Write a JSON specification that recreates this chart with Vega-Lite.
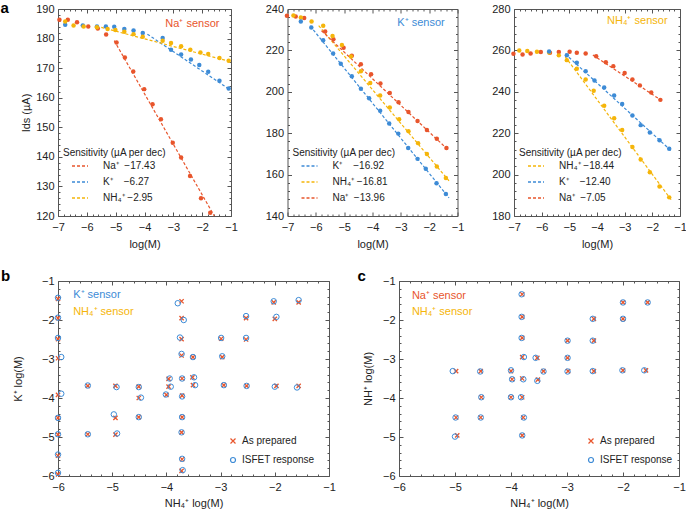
{
"$schema": "https://vega.github.io/schema/vega-lite/v6.json",
"padding": 0,
"background": "white",
"config": {
 "font": "Liberation Sans",
 "view": {"stroke": "#555555", "strokeWidth": 1},
 "axis": {"domain": false, "grid": false, "labelFont": "Liberation Sans", "labelFontSize": 11, "labelColor": "#222222", "titleFont": "Liberation Sans", "titleFontSize": 11, "titleFontWeight": "normal", "titleColor": "#222222", "tickColor": "#555555", "labelFlush": false, "labelOverlap": false},
 "legend": {"labelFont": "Liberation Sans", "titleFont": "Liberation Sans", "labelColor": "#222222", "titleColor": "#222222", "titleFontWeight": "normal"},
 "text": {"font": "Liberation Sans"}
},
"datasets": {
 "fit_a1": [
  {"x": -5.05, "y": 179.3, "ion": "Na"}, {"x": -1.58, "y": 120.0, "ion": "Na"},
  {"x": -3.9, "y": 181.5, "ion": "K"}, {"x": -1.02, "y": 162.6, "ion": "K"},
  {"x": -5.5, "y": 183.8, "ion": "NH4"}, {"x": -1.02, "y": 172.2, "ion": "NH4"}
 ],
 "pts_a1": [
  {"x": -6.95, "y": 186.4, "ion": "Na"}, {"x": -6.66, "y": 186.4, "ion": "Na"}, {"x": -6.34, "y": 185.5, "ion": "Na"}, {"x": -5.95, "y": 184.1, "ion": "Na"}, {"x": -5.62, "y": 183.4, "ion": "Na"}, {"x": -5.33, "y": 181.4, "ion": "Na"}, {"x": -4.97, "y": 178.7, "ion": "Na"}, {"x": -4.68, "y": 173.6, "ion": "Na"}, {"x": -4.39, "y": 168.9, "ion": "Na"}, {"x": -4.01, "y": 162.9, "ion": "Na"}, {"x": -3.72, "y": 157.8, "ion": "Na"}, {"x": -3.43, "y": 152.7, "ion": "Na"}, {"x": -3.02, "y": 144.8, "ion": "Na"}, {"x": -2.73, "y": 139.8, "ion": "Na"}, {"x": -2.42, "y": 133.5, "ion": "Na"}, {"x": -2.04, "y": 126.0, "ion": "Na"}, {"x": -1.72, "y": 121.1, "ion": "Na"},
  {"x": -6.75, "y": 184.7, "ion": "K"}, {"x": -6.14, "y": 184.4, "ion": "K"}, {"x": -5.65, "y": 184.1, "ion": "K"}, {"x": -5.34, "y": 184.1, "ion": "K"}, {"x": -5.05, "y": 184.0, "ion": "K"}, {"x": -4.7, "y": 183.2, "ion": "K"}, {"x": -4.38, "y": 182.7, "ion": "K"}, {"x": -4.06, "y": 181.9, "ion": "K"}, {"x": -3.37, "y": 180.2, "ion": "K"}, {"x": -3.08, "y": 176.2, "ion": "K"}, {"x": -2.73, "y": 174.6, "ion": "K"}, {"x": -2.39, "y": 172.9, "ion": "K"}, {"x": -2.1, "y": 171.1, "ion": "K"}, {"x": -1.79, "y": 168.8, "ion": "K"}, {"x": -1.4, "y": 165.7, "ion": "K"}, {"x": -1.08, "y": 163.1, "ion": "K"},
  {"x": -6.75, "y": 185.8, "ion": "NH4"}, {"x": -6.46, "y": 184.4, "ion": "NH4"}, {"x": -6.11, "y": 184.1, "ion": "NH4"}, {"x": -5.65, "y": 183.8, "ion": "NH4"}, {"x": -5.28, "y": 183.2, "ion": "NH4"}, {"x": -5.01, "y": 182.9, "ion": "NH4"}, {"x": -4.7, "y": 182.3, "ion": "NH4"}, {"x": -4.38, "y": 181.5, "ion": "NH4"}, {"x": -4.06, "y": 180.6, "ion": "NH4"}, {"x": -3.37, "y": 179.3, "ion": "NH4"}, {"x": -3.08, "y": 178.5, "ion": "NH4"}, {"x": -2.73, "y": 177.4, "ion": "NH4"}, {"x": -2.41, "y": 176.2, "ion": "NH4"}, {"x": -2.06, "y": 175.3, "ion": "NH4"}, {"x": -1.79, "y": 174.8, "ion": "NH4"}, {"x": -1.4, "y": 173.4, "ion": "NH4"}, {"x": -1.08, "y": 172.5, "ion": "NH4"}
 ],
 "fit_a2": [
  {"x": -6.2, "y": 231.8, "ion": "K"}, {"x": -1.3, "y": 148.8, "ion": "K"},
  {"x": -5.9, "y": 232.0, "ion": "NH4"}, {"x": -1.3, "y": 157.0, "ion": "NH4"},
  {"x": -5.8, "y": 229.5, "ion": "Na"}, {"x": -1.35, "y": 172.2, "ion": "Na"}
 ],
 "pts_a2": [
  {"x": -7.02, "y": 236.7, "ion": "Na"}, {"x": -6.71, "y": 236.4, "ion": "Na"}, {"x": -6.41, "y": 235.6, "ion": "Na"}, {"x": -5.67, "y": 229.1, "ion": "Na"}, {"x": -5.38, "y": 225.4, "ion": "Na"}, {"x": -5.02, "y": 221.3, "ion": "Na"}, {"x": -4.73, "y": 217.4, "ion": "Na"}, {"x": -4.41, "y": 213.3, "ion": "Na"}, {"x": -4.05, "y": 208.5, "ion": "Na"}, {"x": -3.72, "y": 204.0, "ion": "Na"}, {"x": -3.39, "y": 199.4, "ion": "Na"}, {"x": -3.08, "y": 195.0, "ion": "Na"}, {"x": -2.73, "y": 190.2, "ion": "Na"}, {"x": -2.41, "y": 185.9, "ion": "Na"}, {"x": -2.08, "y": 181.5, "ion": "Na"}, {"x": -1.73, "y": 177.3, "ion": "Na"}, {"x": -1.39, "y": 172.9, "ion": "Na"},
  {"x": -6.79, "y": 236.9, "ion": "NH4"}, {"x": -6.53, "y": 235.9, "ion": "NH4"}, {"x": -6.15, "y": 234.0, "ion": "NH4"}, {"x": -5.74, "y": 231.9, "ion": "NH4"}, {"x": -5.41, "y": 227.0, "ion": "NH4"}, {"x": -5.08, "y": 222.6, "ion": "NH4"}, {"x": -4.76, "y": 217.0, "ion": "NH4"}, {"x": -4.41, "y": 209.9, "ion": "NH4"}, {"x": -4.08, "y": 204.2, "ion": "NH4"}, {"x": -3.73, "y": 198.2, "ion": "NH4"}, {"x": -3.39, "y": 192.4, "ion": "NH4"}, {"x": -3.06, "y": 186.7, "ion": "NH4"}, {"x": -2.73, "y": 181.0, "ion": "NH4"}, {"x": -2.39, "y": 175.2, "ion": "NH4"}, {"x": -2.08, "y": 169.9, "ion": "NH4"}, {"x": -1.73, "y": 163.9, "ion": "NH4"}, {"x": -1.41, "y": 158.4, "ion": "NH4"},
  {"x": -6.53, "y": 234.0, "ion": "K"}, {"x": -6.16, "y": 231.1, "ion": "K"}, {"x": -5.74, "y": 224.9, "ion": "K"}, {"x": -5.39, "y": 218.5, "ion": "K"}, {"x": -5.12, "y": 213.5, "ion": "K"}, {"x": -4.73, "y": 207.5, "ion": "K"}, {"x": -4.41, "y": 201.5, "ion": "K"}, {"x": -4.12, "y": 196.9, "ion": "K"}, {"x": -3.73, "y": 190.9, "ion": "K"}, {"x": -3.41, "y": 184.7, "ion": "K"}, {"x": -3.09, "y": 179.8, "ion": "K"}, {"x": -2.74, "y": 172.8, "ion": "K"}, {"x": -2.41, "y": 167.6, "ion": "K"}, {"x": -2.12, "y": 162.8, "ion": "K"}, {"x": -1.74, "y": 155.8, "ion": "K"}, {"x": -1.41, "y": 150.6, "ion": "K"}
 ],
 "fit_a3": [
  {"x": -5.15, "y": 257.0, "ion": "NH4"}, {"x": -1.3, "y": 187.5, "ion": "NH4"},
  {"x": -5.15, "y": 258.3, "ion": "K"}, {"x": -1.3, "y": 211.3, "ion": "K"},
  {"x": -4.15, "y": 257.8, "ion": "Na"}, {"x": -1.6, "y": 235.2, "ion": "Na"}
 ],
 "pts_a3": [
  {"x": -7.02, "y": 258.4, "ion": "Na"}, {"x": -6.69, "y": 258.0, "ion": "Na"}, {"x": -6.4, "y": 258.5, "ion": "Na"}, {"x": -6.03, "y": 259.2, "ion": "Na"}, {"x": -5.7, "y": 258.9, "ion": "Na"}, {"x": -5.38, "y": 259.2, "ion": "Na"}, {"x": -4.99, "y": 259.3, "ion": "Na"}, {"x": -4.73, "y": 258.9, "ion": "Na"}, {"x": -4.41, "y": 258.5, "ion": "Na"}, {"x": -4.03, "y": 257.2, "ion": "Na"}, {"x": -3.68, "y": 254.3, "ion": "Na"}, {"x": -3.41, "y": 252.4, "ion": "Na"}, {"x": -3.0, "y": 249.1, "ion": "Na"}, {"x": -2.72, "y": 245.9, "ion": "Na"}, {"x": -2.45, "y": 243.1, "ion": "Na"}, {"x": -2.04, "y": 239.7, "ion": "Na"}, {"x": -1.71, "y": 236.1, "ion": "Na"},
  {"x": -6.81, "y": 260.0, "ion": "NH4"}, {"x": -6.52, "y": 259.7, "ion": "NH4"}, {"x": -6.17, "y": 259.3, "ion": "NH4"}, {"x": -5.73, "y": 259.0, "ion": "NH4"}, {"x": -5.38, "y": 257.6, "ion": "NH4"}, {"x": -5.09, "y": 255.3, "ion": "NH4"}, {"x": -4.73, "y": 251.1, "ion": "NH4"}, {"x": -4.41, "y": 245.9, "ion": "NH4"}, {"x": -4.12, "y": 240.5, "ion": "NH4"}, {"x": -3.74, "y": 233.3, "ion": "NH4"}, {"x": -3.38, "y": 227.2, "ion": "NH4"}, {"x": -3.09, "y": 221.5, "ion": "NH4"}, {"x": -2.72, "y": 213.3, "ion": "NH4"}, {"x": -2.42, "y": 207.3, "ion": "NH4"}, {"x": -2.09, "y": 201.1, "ion": "NH4"}, {"x": -1.74, "y": 194.3, "ion": "NH4"}, {"x": -1.39, "y": 189.0, "ion": "NH4"},
  {"x": -5.73, "y": 259.5, "ion": "K"}, {"x": -5.09, "y": 257.7, "ion": "K"}, {"x": -4.73, "y": 254.0, "ion": "K"}, {"x": -4.41, "y": 249.9, "ion": "K"}, {"x": -4.09, "y": 245.5, "ion": "K"}, {"x": -3.74, "y": 242.1, "ion": "K"}, {"x": -3.38, "y": 238.2, "ion": "K"}, {"x": -3.09, "y": 234.1, "ion": "K"}, {"x": -2.72, "y": 228.5, "ion": "K"}, {"x": -2.42, "y": 223.9, "ion": "K"}, {"x": -2.09, "y": 220.3, "ion": "K"}, {"x": -1.74, "y": 216.6, "ion": "K"}, {"x": -1.39, "y": 212.5, "ion": "K"}
 ],
 "b_prep": [
  {"x": -6.0, "y": -1.46}, {"x": -6.0, "y": -1.95}, {"x": -6.0, "y": -2.49}, {"x": -6.0, "y": -2.98}, {"x": -6.0, "y": -3.92}, {"x": -6.0, "y": -4.51}, {"x": -6.0, "y": -4.94}, {"x": -6.0, "y": -5.48}, {"x": -6.0, "y": -5.96},
  {"x": -5.45, "y": -3.69}, {"x": -5.45, "y": -4.93}, {"x": -4.94, "y": -3.69}, {"x": -4.94, "y": -4.51}, {"x": -4.94, "y": -4.94},
  {"x": -4.51, "y": -3.71}, {"x": -4.51, "y": -4.0}, {"x": -4.51, "y": -4.49}, {"x": -4.0, "y": -3.92}, {"x": -3.96, "y": -3.51}, {"x": -3.96, "y": -3.71},
  {"x": -3.72, "y": -1.52}, {"x": -3.72, "y": -1.95}, {"x": -3.72, "y": -2.49}, {"x": -3.72, "y": -2.91}, {"x": -3.71, "y": -3.5}, {"x": -3.71, "y": -3.94}, {"x": -3.71, "y": -4.49}, {"x": -3.72, "y": -4.88}, {"x": -3.71, "y": -5.57}, {"x": -3.72, "y": -5.87},
  {"x": -3.51, "y": -2.95}, {"x": -3.52, "y": -3.47}, {"x": -3.51, "y": -3.67},
  {"x": -2.99, "y": -2.48}, {"x": -2.97, "y": -2.95}, {"x": -2.94, "y": -3.67},
  {"x": -2.53, "y": -1.95}, {"x": -2.53, "y": -2.5}, {"x": -2.52, "y": -3.69},
  {"x": -2.02, "y": -1.55}, {"x": -2.0, "y": -1.97}, {"x": -1.97, "y": -3.69},
  {"x": -1.56, "y": -1.55}, {"x": -1.56, "y": -3.69}
 ],
 "b_isfet": [
  {"x": -6.0, "y": -1.43}, {"x": -6.0, "y": -1.94}, {"x": -6.0, "y": -2.46}, {"x": -5.94, "y": -2.95}, {"x": -5.94, "y": -3.89}, {"x": -6.0, "y": -4.51}, {"x": -6.0, "y": -4.93}, {"x": -6.0, "y": -5.45}, {"x": -6.0, "y": -5.92},
  {"x": -5.45, "y": -3.68}, {"x": -5.45, "y": -4.93}, {"x": -4.92, "y": -3.72}, {"x": -4.97, "y": -4.42}, {"x": -4.91, "y": -4.91},
  {"x": -4.51, "y": -3.72}, {"x": -4.47, "y": -3.99}, {"x": -4.51, "y": -4.49}, {"x": -4.01, "y": -3.91}, {"x": -3.94, "y": -3.5}, {"x": -3.92, "y": -3.71},
  {"x": -3.79, "y": -1.57}, {"x": -3.68, "y": -2.0}, {"x": -3.75, "y": -2.45}, {"x": -3.72, "y": -2.87}, {"x": -3.71, "y": -3.5}, {"x": -3.71, "y": -3.96}, {"x": -3.71, "y": -4.49}, {"x": -3.72, "y": -4.88}, {"x": -3.71, "y": -5.56}, {"x": -3.7, "y": -5.85},
  {"x": -3.51, "y": -2.95}, {"x": -3.49, "y": -3.47}, {"x": -3.47, "y": -3.67},
  {"x": -2.99, "y": -2.46}, {"x": -2.97, "y": -2.93}, {"x": -2.94, "y": -3.67},
  {"x": -2.53, "y": -1.9}, {"x": -2.53, "y": -2.46}, {"x": -2.52, "y": -3.69},
  {"x": -2.02, "y": -1.52}, {"x": -1.97, "y": -1.92}, {"x": -2.0, "y": -3.71},
  {"x": -1.56, "y": -1.49}, {"x": -1.59, "y": -3.73}
 ],
 "c_prep": [
  {"x": -4.98, "y": -3.31}, {"x": -4.54, "y": -3.31}, {"x": -4.53, "y": -3.98}, {"x": -4.98, "y": -4.5}, {"x": -4.54, "y": -4.5}, {"x": -4.96, "y": -4.96},
  {"x": -4.0, "y": -3.31}, {"x": -3.98, "y": -3.52}, {"x": -4.0, "y": -3.98},
  {"x": -3.8, "y": -1.34}, {"x": -3.8, "y": -1.92}, {"x": -3.8, "y": -2.46}, {"x": -3.8, "y": -2.95}, {"x": -3.8, "y": -3.5}, {"x": -3.8, "y": -3.98}, {"x": -3.78, "y": -4.5}, {"x": -3.8, "y": -4.96},
  {"x": -3.53, "y": -2.97}, {"x": -3.52, "y": -3.53}, {"x": -3.42, "y": -3.31},
  {"x": -2.99, "y": -2.53}, {"x": -2.99, "y": -2.97}, {"x": -2.98, "y": -3.31},
  {"x": -2.52, "y": -1.97}, {"x": -2.52, "y": -2.53}, {"x": -2.52, "y": -3.31},
  {"x": -2.0, "y": -1.55}, {"x": -2.0, "y": -1.97}, {"x": -2.0, "y": -3.29},
  {"x": -1.56, "y": -1.55}, {"x": -1.59, "y": -3.29}
 ],
 "c_isfet": [
  {"x": -5.04, "y": -3.31}, {"x": -4.55, "y": -3.32}, {"x": -4.53, "y": -3.98}, {"x": -4.99, "y": -4.5}, {"x": -4.54, "y": -4.5}, {"x": -5.0, "y": -4.99},
  {"x": -4.0, "y": -3.29}, {"x": -3.98, "y": -3.52}, {"x": -4.0, "y": -3.98},
  {"x": -3.81, "y": -1.34}, {"x": -3.81, "y": -1.92}, {"x": -3.81, "y": -2.46}, {"x": -3.77, "y": -2.95}, {"x": -3.78, "y": -3.52}, {"x": -3.82, "y": -3.98}, {"x": -3.77, "y": -4.5}, {"x": -3.8, "y": -4.96},
  {"x": -3.56, "y": -2.97}, {"x": -3.53, "y": -3.56}, {"x": -3.42, "y": -3.32},
  {"x": -2.99, "y": -2.53}, {"x": -2.99, "y": -2.97}, {"x": -2.99, "y": -3.32},
  {"x": -2.54, "y": -1.97}, {"x": -2.54, "y": -2.53}, {"x": -2.54, "y": -3.31},
  {"x": -2.0, "y": -1.55}, {"x": -2.0, "y": -1.97}, {"x": -2.01, "y": -3.29},
  {"x": -1.56, "y": -1.55}, {"x": -1.62, "y": -3.29}
 ]
},
"spacing": 18,
"resolve": {"scale": {"color": "independent", "shape": "independent"}, "legend": {"color": "independent", "shape": "independent"}},
"vconcat": [
 {
  "spacing": 26.5,
  "resolve": {"scale": {"color": "independent", "shape": "independent"}, "legend": {"color": "independent", "shape": "independent"}},
  "hconcat": [
   {
    "width": 173, "height": 207,
    "resolve": {"axis": {"x": "independent", "y": "independent"}},
    "layer": [
     {"data": {"name": "fit_a1"}, "mark": {"type": "line", "strokeDash": [3, 2], "strokeWidth": 1.2},
      "encoding": {
       "x": {"field": "x", "type": "quantitative", "scale": {"domain": [-7, -1], "nice": false, "zero": false},
        "axis": {"orient": "bottom", "title": "log(M)", "values": [-7,-6,-5,-4,-3,-2,-1], "format": "d", "tickSize": -4, "labelPadding": 9, "titlePadding": 6}},
       "y": {"field": "y", "type": "quantitative", "scale": {"domain": [120, 190], "nice": false, "zero": false},
        "axis": {"orient": "left", "title": "Ids (\u00b5A)", "values": [120,130,140,150,160,170,180,190], "format": "d", "tickSize": -4, "labelPadding": 8, "titlePadding": 4}},
       "color": {"field": "ion", "type": "nominal", "scale": {"domain": ["Na", "K", "NH4"], "range": ["#E8552C", "#3D8BD6", "#F5B50A"]},
        "legend": {"title": "Sensitivity (\u00b5A per dec)", "orient": "none", "legendX": 5, "legendY": 139, "padding": 0, "symbolType": "M-2,0L2,0", "symbolSize": 64, "symbolStrokeWidth": 1.3, "symbolDash": [3, 2], "symbolOffset": 12, "labelOffset": 18, "rowPadding": 6, "titlePadding": 3, "labelFontSize": 10, "titleFontSize": 10,
         "labelExpr": "datum.label == 'Na' ? 'Na\u207a\u00a0\u00a0\u221217.43' : datum.label == 'K' ? 'K\u207a\u00a0\u00a0\u00a0\u00a0\u22126.27' : 'NH\u2084\u207a\u00a0\u22122.95'"}}
      }},
     {"data": {"name": "pts_a1"}, "mark": {"type": "circle", "size": 20, "opacity": 1},
      "encoding": {
       "x": {"field": "x", "type": "quantitative", "axis": {"orient": "top", "title": null, "labels": false, "values": [-7,-6.8,-6.6,-6.4,-6.2,-6,-5.8,-5.6,-5.4,-5.2,-5,-4.8,-4.6,-4.4,-4.2,-4,-3.8,-3.6,-3.4,-3.2,-3,-2.8,-2.6,-2.4,-2.2,-2,-1.8,-1.6,-1.4,-1.2,-1], "tickSize": {"condition": {"test": "datum.value % 1 == 0", "value": -4}, "value": -2}}},
       "y": {"field": "y", "type": "quantitative", "axis": {"orient": "right", "title": null, "labels": false, "values": [120,122,124,126,128,130,132,134,136,138,140,142,144,146,148,150,152,154,156,158,160,162,164,166,168,170,172,174,176,178,180,182,184,186,188,190], "tickSize": {"condition": {"test": "datum.value % 10 == 0", "value": -4}, "value": -2}}},
       "color": {"field": "ion", "type": "nominal", "legend": null}
      }},
     {"data": {"values": [{}]}, "mark": {"type": "text", "text": "Na\u207a sensor", "align": "right", "baseline": "middle", "fontSize": 11, "color": "#E8552C"},
      "encoding": {
       "x": {"datum": -1.4, "type": "quantitative", "axis": {"orient": "bottom", "title": null, "labels": false, "values": [-6.8,-6.6,-6.4,-6.2,-5.8,-5.6,-5.4,-5.2,-4.8,-4.6,-4.4,-4.2,-3.8,-3.6,-3.4,-3.2,-2.8,-2.6,-2.4,-2.2,-1.8,-1.6,-1.4,-1.2], "tickSize": -2}},
       "y": {"datum": 184.9, "type": "quantitative", "axis": {"orient": "left", "title": null, "labels": false, "values": [122,124,126,128,132,134,136,138,142,144,146,148,152,154,156,158,162,164,166,168,172,174,176,178,182,184,186,188], "tickSize": -2}}}},
     {"data": {"values": [{}]}, "mark": {"type": "text", "text": "a", "align": "left", "baseline": "middle", "fontSize": 15, "fontWeight": "bold", "color": "#000000"},
      "encoding": {"x": {"datum": -8.99, "type": "quantitative", "axis": null}, "y": {"datum": 190.2, "type": "quantitative", "axis": null}}}
    ]
   },
   {
    "width": 170, "height": 207,
    "resolve": {"axis": {"x": "independent", "y": "independent"}},
    "layer": [
     {"data": {"name": "fit_a2"}, "mark": {"type": "line", "strokeDash": [3, 2], "strokeWidth": 1.2},
      "encoding": {
       "x": {"field": "x", "type": "quantitative", "scale": {"domain": [-7, -1], "nice": false, "zero": false},
        "axis": {"orient": "bottom", "title": "log(M)", "values": [-7,-6,-5,-4,-3,-2,-1], "format": "d", "tickSize": -4, "labelPadding": 9, "titlePadding": 6}},
       "y": {"field": "y", "type": "quantitative", "scale": {"domain": [140, 240], "nice": false, "zero": false},
        "axis": {"orient": "left", "title": null, "values": [140,160,180,200,220,240], "format": "d", "tickSize": -4, "labelPadding": 8}},
       "color": {"field": "ion", "type": "nominal", "scale": {"domain": ["K", "NH4", "Na"], "range": ["#3D8BD6", "#F5B50A", "#E8552C"]},
        "legend": {"title": "Sensitivity (\u00b5A per dec)", "orient": "none", "legendX": 5, "legendY": 139, "padding": 0, "symbolType": "M-2,0L2,0", "symbolSize": 64, "symbolStrokeWidth": 1.3, "symbolDash": [3, 2], "symbolOffset": 12, "labelOffset": 18, "rowPadding": 6, "titlePadding": 3, "labelFontSize": 10, "titleFontSize": 10,
         "labelExpr": "datum.label == 'Na' ? 'Na\u207a\u00a0\u00a0\u221213.96' : datum.label == 'K' ? 'K\u207a\u00a0\u00a0\u00a0\u00a0\u221216.92' : 'NH\u2084\u207a\u00a0\u221216.81'"}}
      }},
     {"data": {"name": "pts_a2"}, "mark": {"type": "circle", "size": 20, "opacity": 1},
      "encoding": {
       "x": {"field": "x", "type": "quantitative", "axis": {"orient": "top", "title": null, "labels": false, "values": [-7,-6.8,-6.6,-6.4,-6.2,-6,-5.8,-5.6,-5.4,-5.2,-5,-4.8,-4.6,-4.4,-4.2,-4,-3.8,-3.6,-3.4,-3.2,-3,-2.8,-2.6,-2.4,-2.2,-2,-1.8,-1.6,-1.4,-1.2,-1], "tickSize": {"condition": {"test": "datum.value % 1 == 0", "value": -4}, "value": -2}}},
       "y": {"field": "y", "type": "quantitative", "axis": {"orient": "right", "title": null, "labels": false, "values": [140,144,148,152,156,160,164,168,172,176,180,184,188,192,196,200,204,208,212,216,220,224,228,232,236,240], "tickSize": {"condition": {"test": "datum.value % 20 == 0", "value": -4}, "value": -2}}},
       "color": {"field": "ion", "type": "nominal", "legend": null}
      }},
     {"data": {"values": [{}]}, "mark": {"type": "text", "text": "K\u207a sensor", "align": "right", "baseline": "middle", "fontSize": 11, "color": "#3D8BD6"},
      "encoding": {
       "x": {"datum": -1.45, "type": "quantitative", "axis": {"orient": "bottom", "title": null, "labels": false, "values": [-6.8,-6.6,-6.4,-6.2,-5.8,-5.6,-5.4,-5.2,-4.8,-4.6,-4.4,-4.2,-3.8,-3.6,-3.4,-3.2,-2.8,-2.6,-2.4,-2.2,-1.8,-1.6,-1.4,-1.2], "tickSize": -2}},
       "y": {"datum": 233, "type": "quantitative", "axis": {"orient": "left", "title": null, "labels": false, "values": [144,148,152,156,164,168,172,176,184,188,192,196,204,208,212,216,224,228,232,236], "tickSize": -2}}}}
    ]
   },
   {
    "width": 166, "height": 207,
    "resolve": {"axis": {"x": "independent", "y": "independent"}},
    "layer": [
     {"data": {"name": "fit_a3"}, "mark": {"type": "line", "strokeDash": [3, 2], "strokeWidth": 1.2},
      "encoding": {
       "x": {"field": "x", "type": "quantitative", "scale": {"domain": [-7, -1], "nice": false, "zero": false},
        "axis": {"orient": "bottom", "title": "log(M)", "values": [-7,-6,-5,-4,-3,-2,-1], "format": "d", "tickSize": -4, "labelPadding": 9, "titlePadding": 6}},
       "y": {"field": "y", "type": "quantitative", "scale": {"domain": [180, 280], "nice": false, "zero": false},
        "axis": {"orient": "left", "title": null, "values": [180,200,220,240,260,280], "format": "d", "tickSize": -4, "labelPadding": 8}},
       "color": {"field": "ion", "type": "nominal", "scale": {"domain": ["NH4", "K", "Na"], "range": ["#F5B50A", "#3D8BD6", "#E8552C"]},
        "legend": {"title": "Sensitivity (\u00b5A per dec)", "orient": "none", "legendX": 5, "legendY": 139, "padding": 0, "symbolType": "M-2,0L2,0", "symbolSize": 64, "symbolStrokeWidth": 1.3, "symbolDash": [3, 2], "symbolOffset": 12, "labelOffset": 18, "rowPadding": 6, "titlePadding": 3, "labelFontSize": 10, "titleFontSize": 10,
         "labelExpr": "datum.label == 'Na' ? 'Na\u207a\u00a0\u00a0\u22127.05' : datum.label == 'K' ? 'K\u207a\u00a0\u00a0\u00a0\u00a0\u221212.40' : 'NH\u2084\u207a\u00a0\u221218.44'"}}
      }},
     {"data": {"name": "pts_a3"}, "mark": {"type": "circle", "size": 20, "opacity": 1},
      "encoding": {
       "x": {"field": "x", "type": "quantitative", "axis": {"orient": "top", "title": null, "labels": false, "values": [-7,-6.8,-6.6,-6.4,-6.2,-6,-5.8,-5.6,-5.4,-5.2,-5,-4.8,-4.6,-4.4,-4.2,-4,-3.8,-3.6,-3.4,-3.2,-3,-2.8,-2.6,-2.4,-2.2,-2,-1.8,-1.6,-1.4,-1.2,-1], "tickSize": {"condition": {"test": "datum.value % 1 == 0", "value": -4}, "value": -2}}},
       "y": {"field": "y", "type": "quantitative", "axis": {"orient": "right", "title": null, "labels": false, "values": [180,184,188,192,196,200,204,208,212,216,220,224,228,232,236,240,244,248,252,256,260,264,268,272,276,280], "tickSize": {"condition": {"test": "datum.value % 20 == 0", "value": -4}, "value": -2}}},
       "color": {"field": "ion", "type": "nominal", "legend": null}
      }},
     {"data": {"values": [{}]}, "mark": {"type": "text", "text": "NH\u2084\u207a sensor", "align": "right", "baseline": "middle", "fontSize": 11, "color": "#F5B50A"},
      "encoding": {
       "x": {"datum": -1.45, "type": "quantitative", "axis": {"orient": "bottom", "title": null, "labels": false, "values": [-6.8,-6.6,-6.4,-6.2,-5.8,-5.6,-5.4,-5.2,-4.8,-4.6,-4.4,-4.2,-3.8,-3.6,-3.4,-3.2,-2.8,-2.6,-2.4,-2.2,-1.8,-1.6,-1.4,-1.2], "tickSize": -2}},
       "y": {"datum": 274.3, "type": "quantitative", "axis": {"orient": "left", "title": null, "labels": false, "values": [184,188,192,196,204,208,212,216,224,228,232,236,244,248,252,256,264,268,272,276], "tickSize": -2}}}}
    ]
   }
  ]
 },
 {
  "spacing": 21,
  "resolve": {"scale": {"color": "independent", "shape": "independent"}, "legend": {"color": "independent", "shape": "independent"}},
  "hconcat": [
   {
    "width": 271, "height": 195,
    "resolve": {"axis": {"x": "independent", "y": "independent"}},
    "layer": [
     {"data": {"name": "b_prep"}, "mark": {"type": "point", "filled": false, "size": 18, "strokeWidth": 1.3, "opacity": 1},
      "encoding": {
       "x": {"field": "x", "type": "quantitative", "scale": {"domain": [-6, -1], "nice": false, "zero": false},
        "axis": {"orient": "bottom", "title": "NH\u2084\u207a log(M)", "values": [-6,-5,-4,-3,-2,-1], "format": "d", "tickSize": -4, "labelPadding": 9, "titlePadding": 5}},
       "y": {"field": "y", "type": "quantitative", "scale": {"domain": [-6, -1], "nice": false, "zero": false},
        "axis": {"orient": "left", "title": "K\u207a log(M)", "values": [-6,-5,-4,-3,-2,-1], "format": "d", "tickSize": -4, "labelPadding": 8, "titlePadding": 18}},
       "color": {"datum": "As prepared", "type": "nominal", "scale": {"domain": ["As prepared", "ISFET response"], "range": ["#E8552C", "#3D8BD6"]},
        "legend": {"title": null, "orient": "none", "legendX": 170, "legendY": 155, "padding": 0, "rowPadding": 9, "labelFontSize": 10, "symbolSize": 25, "symbolStrokeWidth": 1.2}},
       "shape": {"datum": "As prepared", "type": "nominal", "scale": {"domain": ["As prepared", "ISFET response"], "range": ["M-1,-1L1,1M-1,1L1,-1", "circle"]},
        "legend": {"title": null, "orient": "none", "legendX": 170, "legendY": 155, "padding": 0, "rowPadding": 9, "labelFontSize": 10, "symbolSize": 25, "symbolStrokeWidth": 1.2}}
      }},
     {"data": {"name": "b_isfet"}, "mark": {"type": "point", "filled": false, "size": 30, "strokeWidth": 1, "opacity": 1},
      "encoding": {
       "x": {"field": "x", "type": "quantitative", "axis": {"orient": "top", "title": null, "labels": false, "values": [-6,-5.8,-5.6,-5.4,-5.2,-5,-4.8,-4.6,-4.4,-4.2,-4,-3.8,-3.6,-3.4,-3.2,-3,-2.8,-2.6,-2.4,-2.2,-2,-1.8,-1.6,-1.4,-1.2,-1], "tickSize": {"condition": {"test": "datum.value % 1 == 0", "value": -4}, "value": -2}}},
       "y": {"field": "y", "type": "quantitative", "axis": {"orient": "right", "title": null, "labels": false, "values": [-6,-5.8,-5.6,-5.4,-5.2,-5,-4.8,-4.6,-4.4,-4.2,-4,-3.8,-3.6,-3.4,-3.2,-3,-2.8,-2.6,-2.4,-2.2,-2,-1.8,-1.6,-1.4,-1.2,-1], "tickSize": {"condition": {"test": "datum.value % 1 == 0", "value": -4}, "value": -2}}},
       "color": {"datum": "ISFET response", "type": "nominal", "legend": null},
       "shape": {"datum": "ISFET response", "type": "nominal", "legend": null}
      }},
     {"data": {"values": [{}]}, "mark": {"type": "text", "text": "K\u207a sensor", "align": "left", "baseline": "middle", "fontSize": 11, "color": "#3D8BD6"},
      "encoding": {
       "x": {"datum": -5.72, "type": "quantitative", "axis": {"orient": "bottom", "title": null, "labels": false, "values": [-5.8,-5.6,-5.4,-5.2,-4.8,-4.6,-4.4,-4.2,-3.8,-3.6,-3.4,-3.2,-2.8,-2.6,-2.4,-2.2,-1.8,-1.6,-1.4,-1.2], "tickSize": -2}},
       "y": {"datum": -1.36, "type": "quantitative", "axis": {"orient": "left", "title": null, "labels": false, "values": [-5.8,-5.6,-5.4,-5.2,-4.8,-4.6,-4.4,-4.2,-3.8,-3.6,-3.4,-3.2,-2.8,-2.6,-2.4,-2.2,-1.8,-1.6,-1.4,-1.2], "tickSize": -2}}}},
     {"data": {"values": [{}]}, "mark": {"type": "text", "text": "NH\u2084\u207a sensor", "align": "left", "baseline": "middle", "fontSize": 11, "color": "#F5B50A"},
      "encoding": {"x": {"datum": -5.72, "type": "quantitative", "axis": null}, "y": {"datum": -1.8, "type": "quantitative", "axis": null}}},
     {"data": {"values": [{}]}, "mark": {"type": "text", "text": "b", "align": "left", "baseline": "middle", "fontSize": 15, "fontWeight": "bold", "color": "#000000"},
      "encoding": {"x": {"datum": -7.05, "type": "quantitative", "axis": null}, "y": {"datum": -0.87, "type": "quantitative", "axis": null}}}
    ]
   },
   {
    "width": 280, "height": 195,
    "resolve": {"axis": {"x": "independent", "y": "independent"}},
    "layer": [
     {"data": {"name": "c_prep"}, "mark": {"type": "point", "filled": false, "size": 18, "strokeWidth": 1.3, "opacity": 1},
      "encoding": {
       "x": {"field": "x", "type": "quantitative", "scale": {"domain": [-6, -1], "nice": false, "zero": false},
        "axis": {"orient": "bottom", "title": "NH\u2084\u207a log(M)", "values": [-6,-5,-4,-3,-2,-1], "format": "d", "tickSize": -4, "labelPadding": 9, "titlePadding": 5}},
       "y": {"field": "y", "type": "quantitative", "scale": {"domain": [-6, -1], "nice": false, "zero": false},
        "axis": {"orient": "left", "title": "NH\u207a log(M)", "values": [-6,-5,-4,-3,-2,-1], "format": "d", "tickSize": -4, "labelPadding": 8, "titlePadding": 9}},
       "color": {"datum": "As prepared", "type": "nominal", "scale": {"domain": ["As prepared", "ISFET response"], "range": ["#E8552C", "#3D8BD6"]},
        "legend": {"title": null, "orient": "none", "legendX": 187, "legendY": 155, "padding": 0, "rowPadding": 9, "labelFontSize": 10, "symbolSize": 25, "symbolStrokeWidth": 1.2}},
       "shape": {"datum": "As prepared", "type": "nominal", "scale": {"domain": ["As prepared", "ISFET response"], "range": ["M-1,-1L1,1M-1,1L1,-1", "circle"]},
        "legend": {"title": null, "orient": "none", "legendX": 187, "legendY": 155, "padding": 0, "rowPadding": 9, "labelFontSize": 10, "symbolSize": 25, "symbolStrokeWidth": 1.2}}
      }},
     {"data": {"name": "c_isfet"}, "mark": {"type": "point", "filled": false, "size": 30, "strokeWidth": 1, "opacity": 1},
      "encoding": {
       "x": {"field": "x", "type": "quantitative", "axis": {"orient": "top", "title": null, "labels": false, "values": [-6,-5.8,-5.6,-5.4,-5.2,-5,-4.8,-4.6,-4.4,-4.2,-4,-3.8,-3.6,-3.4,-3.2,-3,-2.8,-2.6,-2.4,-2.2,-2,-1.8,-1.6,-1.4,-1.2,-1], "tickSize": {"condition": {"test": "datum.value % 1 == 0", "value": -4}, "value": -2}}},
       "y": {"field": "y", "type": "quantitative", "axis": {"orient": "right", "title": null, "labels": false, "values": [-6,-5.8,-5.6,-5.4,-5.2,-5,-4.8,-4.6,-4.4,-4.2,-4,-3.8,-3.6,-3.4,-3.2,-3,-2.8,-2.6,-2.4,-2.2,-2,-1.8,-1.6,-1.4,-1.2,-1], "tickSize": {"condition": {"test": "datum.value % 1 == 0", "value": -4}, "value": -2}}},
       "color": {"datum": "ISFET response", "type": "nominal", "legend": null},
       "shape": {"datum": "ISFET response", "type": "nominal", "legend": null}
      }},
     {"data": {"values": [{}]}, "mark": {"type": "text", "text": "Na\u207a sensor", "align": "left", "baseline": "middle", "fontSize": 11, "color": "#E8552C"},
      "encoding": {
       "x": {"datum": -5.77, "type": "quantitative", "axis": {"orient": "bottom", "title": null, "labels": false, "values": [-5.8,-5.6,-5.4,-5.2,-4.8,-4.6,-4.4,-4.2,-3.8,-3.6,-3.4,-3.2,-2.8,-2.6,-2.4,-2.2,-1.8,-1.6,-1.4,-1.2], "tickSize": -2}},
       "y": {"datum": -1.39, "type": "quantitative", "axis": {"orient": "left", "title": null, "labels": false, "values": [-5.8,-5.6,-5.4,-5.2,-4.8,-4.6,-4.4,-4.2,-3.8,-3.6,-3.4,-3.2,-2.8,-2.6,-2.4,-2.2,-1.8,-1.6,-1.4,-1.2], "tickSize": -2}}}},
     {"data": {"values": [{}]}, "mark": {"type": "text", "text": "NH\u2084\u207a sensor", "align": "left", "baseline": "middle", "fontSize": 11, "color": "#F5B50A"},
      "encoding": {"x": {"datum": -5.77, "type": "quantitative", "axis": null}, "y": {"datum": -1.8, "type": "quantitative", "axis": null}}},
     {"data": {"values": [{}]}, "mark": {"type": "text", "text": "c", "align": "left", "baseline": "middle", "fontSize": 15, "fontWeight": "bold", "color": "#000000"},
      "encoding": {"x": {"datum": -6.74, "type": "quantitative", "axis": null}, "y": {"datum": -0.87, "type": "quantitative", "axis": null}}}
    ]
   }
  ]
 }
]
}
